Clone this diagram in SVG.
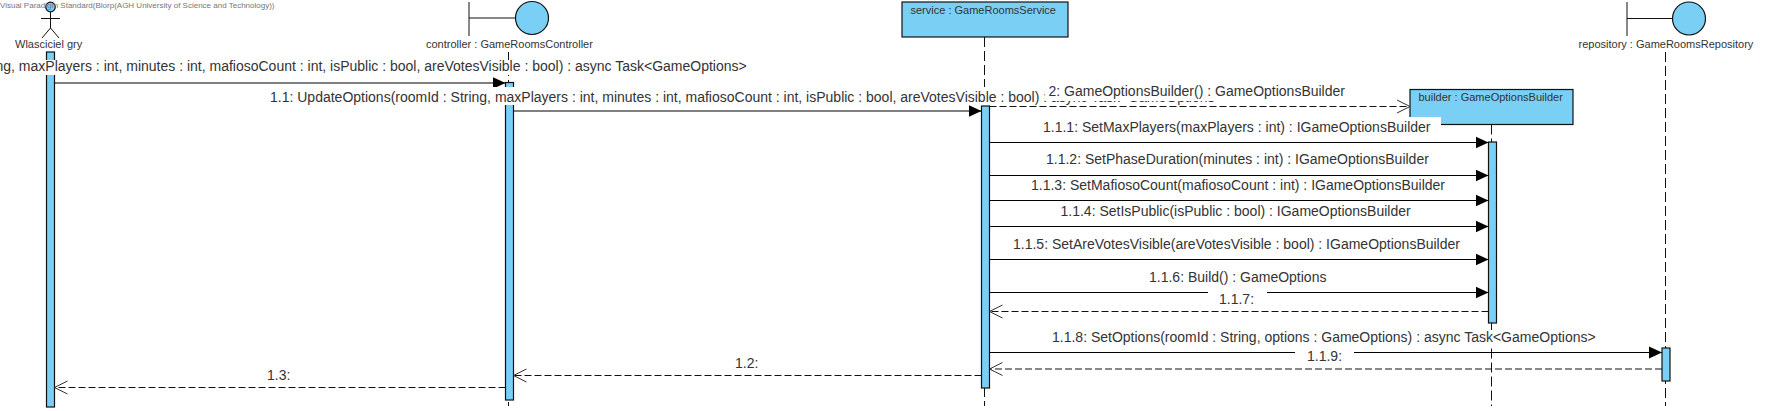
<svg xmlns="http://www.w3.org/2000/svg" width="1767" height="411" viewBox="0 0 1767 411">
<defs>
<marker id="solid" markerUnits="userSpaceOnUse" markerWidth="14" markerHeight="14" refX="13" refY="7" orient="auto"><path d="M0,1 L13,7 L0,13 Z" fill="#000"/></marker>
<marker id="open" markerUnits="userSpaceOnUse" markerWidth="15" markerHeight="16" refX="14" refY="8" orient="auto"><path d="M1,1.5 L14,8 L1,14.500" fill="none" stroke="#333" stroke-width="1"/></marker>
</defs>
<style>
text{font-family:"Liberation Sans",Arial,sans-serif;fill:#333}
.m{font-size:14px}
.n{font-size:11px}
.w{font-size:8px;fill:#777}
.box,.act,.ball{fill:#7acff5;stroke:#111;stroke-width:1.200}
.life{stroke:#111;stroke-width:1;stroke-dasharray:10 4;fill:none}
.ln{stroke:#111;stroke-width:1;fill:none}
.call{stroke:#000;stroke-width:1.200;marker-end:url(#solid);fill:none}
.ret{stroke:#111;stroke-width:1;stroke-dasharray:7 3;marker-end:url(#open);fill:none}
.bg{fill:#fff}
</style>
<rect width="1767" height="411" fill="#fff"/>
<g id="actor-owner">
<circle class="ball" cx="50.500" cy="7" r="4.800"/>
<path class="ln" d="M50.500,12V28M41,18.500H60M42,38L50.500,28L59,38"/>
<text class="n" x="15" y="48">Wlasciciel gry</text>
<rect class="act" x="46.500" y="52" width="8" height="355"/>
</g>
<g id="controller">
<path class="ln" d="M469,2V36M469,18H515"/>
<circle class="ball" cx="532" cy="18" r="16.500"/>
<text class="n" x="426" y="48">controller : GameRoomsController</text>
<path class="life" d="M508.500,52V406"/>
<rect class="act" x="505.500" y="82.500" width="8" height="317.500"/>
</g>
<g id="service">
<rect class="box" x="902" y="2" width="166" height="35"/>
<text class="n" x="910.500" y="14">service : GameRoomsService</text>
<path class="life" d="M984.500,37V406"/>
<rect class="act" x="981.500" y="106" width="8" height="282"/>
</g>
<g id="builder">
<rect class="box" x="1410" y="89.500" width="163" height="35"/>
<text class="n" x="1418.500" y="101">builder : GameOptionsBuilder</text>
<path class="life" d="M1491.500,124.500V406"/>
<rect class="act" x="1488.500" y="142" width="8" height="181"/>
</g>
<g id="repository">
<path class="ln" d="M1627,2V36M1627,18.500H1672"/>
<circle class="ball" cx="1689" cy="18.500" r="16.500"/>
<text class="n" x="1578.500" y="48">repository : GameRoomsRepository</text>
<path class="life" d="M1665.500,52V406"/>
<rect class="act" x="1662" y="348" width="8" height="33"/>
</g>
<g id="connectors">
<path class="call" d="M54.500,83H505.500"/>
<path class="call" d="M513.500,111H981.500"/>
<path class="ret" d="M989.500,106.500H1410"/>
<path class="call" d="M989.500,142.500H1488.500"/>
<path class="call" d="M989.500,175.500H1488.500"/>
<path class="call" d="M989.500,200.500H1488.500"/>
<path class="call" d="M989.500,226.500H1488.500"/>
<path class="call" d="M989.500,259.500H1488.500"/>
<path class="call" d="M989.500,292.500H1488.500"/>
<path class="ret" d="M1488.500,311.500H989.500"/>
<path class="call" d="M989.500,352.500H1662"/>
<path class="ret" d="M1662,369H989.500"/>
<path class="ret" d="M981.500,375.500H513.500"/>
<path class="ret" d="M505.500,387.500H54.500"/>
</g>
<g id="labels">
<rect class="bg" x="0" y="60" width="749" height="15"/>
<text class="m" x="-4.500" y="70.500">ng, maxPlayers : int, minutes : int, mafiosoCount : int, isPublic : bool, areVotesVisible : bool) : async Task&lt;GameOptions&gt;</text>
<rect class="bg" x="268" y="87" width="960" height="18"/>
<text class="m" x="270" y="101.500">1.1: UpdateOptions(roomId : String, maxPlayers : int, minutes : int, mafiosoCount : int, isPublic : bool, areVotesVisible : bool) : async Task&lt;GameOptions&gt;</text>
<rect class="bg" x="1045" y="86" width="302" height="15"/>
<text class="m" x="1048.500" y="96">2: GameOptionsBuilder() : GameOptionsBuilder</text>
<rect class="bg" x="1040" y="117" width="401" height="19"/>
<text class="m" x="1043" y="131.500">1.1.1: SetMaxPlayers(maxPlayers : int) : IGameOptionsBuilder</text>
<text class="m" x="1046" y="164">1.1.2: SetPhaseDuration(minutes : int) : IGameOptionsBuilder</text>
<text class="m" x="1031" y="190">1.1.3: SetMafiosoCount(mafiosoCount : int) : IGameOptionsBuilder</text>
<text class="m" x="1060.500" y="216">1.1.4: SetIsPublic(isPublic : bool) : IGameOptionsBuilder</text>
<text class="m" x="1013" y="249">1.1.5: SetAreVotesVisible(areVotesVisible : bool) : IGameOptionsBuilder</text>
<text class="m" x="1149" y="282">1.1.6: Build() : GameOptions</text>
<rect class="bg" x="1208" y="289" width="59" height="19"/>
<text class="m" x="1219" y="304">1.1.7:</text>
<rect class="bg" x="1050" y="330" width="548" height="17"/>
<text class="m" x="1052" y="342">1.1.8: SetOptions(roomId : String, options : GameOptions) : async Task&lt;GameOptions&gt;</text>
<rect class="bg" x="1295" y="348" width="59" height="17"/>
<text class="m" x="1307" y="361">1.1.9:</text>
<text class="m" x="735" y="368">1.2:</text>
<text class="m" x="267" y="380">1.3:</text>
<text class="w" x="0" y="8">Visual Paradigm Standard(Blorp(AGH University of Science and Technology))</text>
</g>
</svg>
